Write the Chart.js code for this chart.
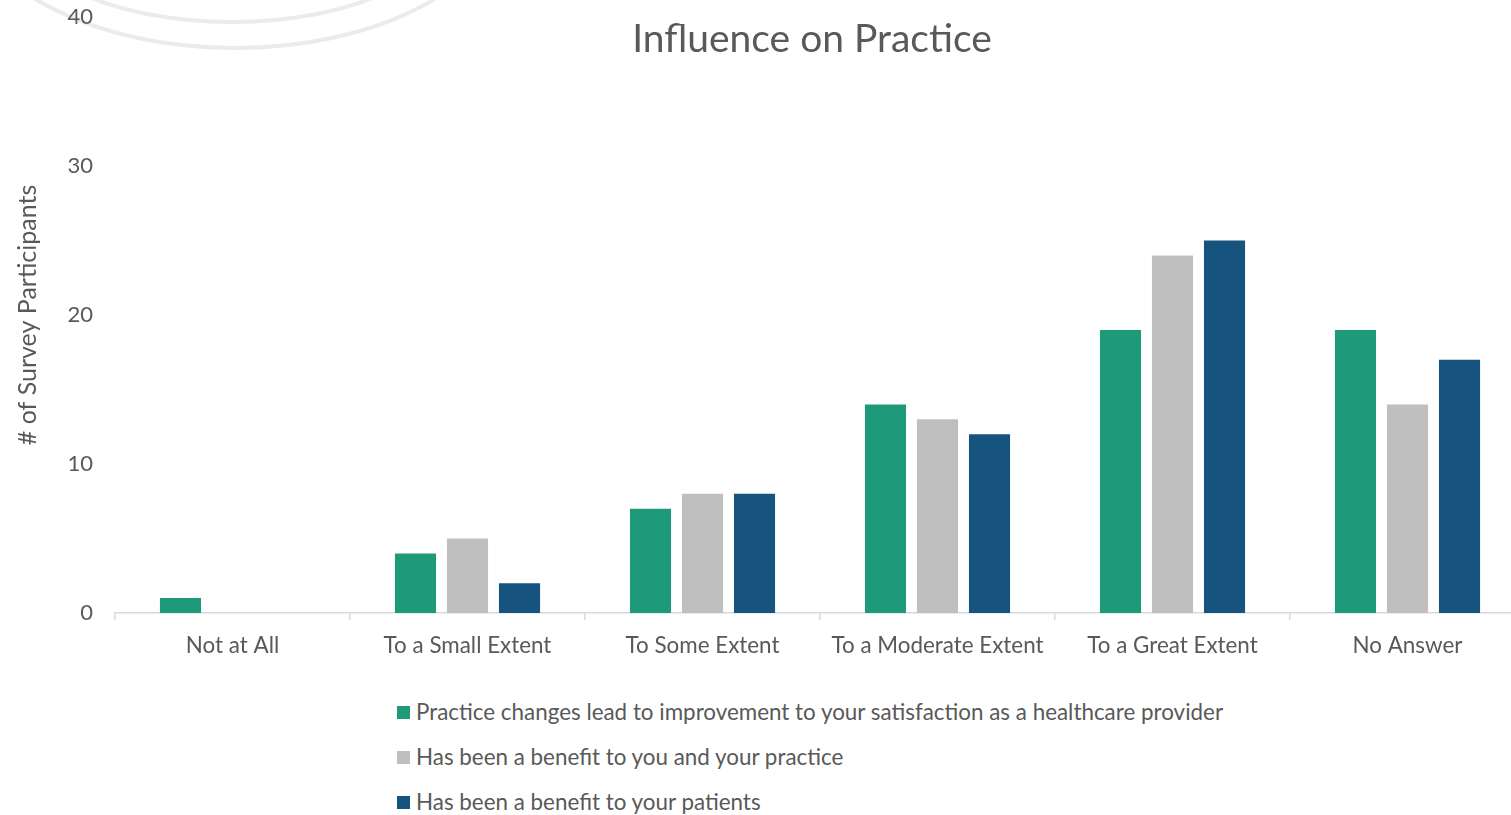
<!DOCTYPE html>
<html>
<head>
<meta charset="utf-8">
<script src="https://cdn.jsdelivr.net/npm/chart.js@4.4.1/dist/chart.umd.min.js"></script>
<style>
  html, body { margin: 0; padding: 0; background: #ffffff; }
  body { width: 1511px; height: 815px; overflow: hidden; position: relative; font-family: Lato, "Open Sans", sans-serif; }
  #chart { position: absolute; left: 0; top: 0; }
  #title { position: absolute; left: 312px; width: 1000px; top: 15px; text-align: center; font-size: 39px; line-height: 44px; color: #595959; }
  #legend { position: absolute; left: 397px; top: 698px; color: #595959; font-size: 22.4px; }
  #legend .item { height: 45px; line-height: 28px; display: flex; align-items: flex-start; }
  #legend .box { width: 13px; height: 13px; margin-top: 8px; margin-right: 6px; flex: none; }
</style>
</head>
<body>
<canvas id="chart" width="1540" height="680"></canvas>
<div id="title">Influence on Practice</div>
<div id="legend"></div>
<script>
const categories = ["Not at All", "To a Small Extent", "To Some Extent", "To a Moderate Extent", "To a Great Extent", "No Answer"];
const seriesNames = [
  "Practice changes lead to improvement to your satisfaction as a healthcare provider",
  "Has been a benefit to you and your practice",
  "Has been a benefit to your patients"
];
const satisfactionValues = [1, 4, 7, 14, 19, 19];
const practiceBenefitValues = [0, 5, 8, 13, 24, 14];
const patientBenefitValues = [0, 2, 8, 12, 25, 17];
const seriesColors = ["#1E9A7A", "#BFBFBF", "#17537F"];
const yTicks = [0, 10, 20, 30, 40];
const yAxisTitle = "# of Survey Participants";

const textColor = "#595959";
const fontFamily = "Lato, 'Open Sans', sans-serif";

const arcsPlugin = {
  id: 'bgArcs',
  beforeDraw(chart) {
    const ctx = chart.ctx;
    ctx.save();
    ctx.strokeStyle = "#EBEBEB";
    ctx.lineWidth = 4;
    ctx.beginPath();
    ctx.ellipse(235, -102, 270, 150, 0, 0, Math.PI);
    ctx.stroke();
    ctx.beginPath();
    ctx.ellipse(232, -78, 216, 100, 0, 0, Math.PI);
    ctx.stroke();
    ctx.restore();
  }
};

const datasets = [satisfactionValues, practiceBenefitValues, patientBenefitValues].map((vals, i) => ({
  label: seriesNames[i],
  data: vals,
  backgroundColor: seriesColors[i],
  borderWidth: 0,
  categoryPercentage: 0.664,
  barPercentage: 0.79
}));

const chart = new Chart(document.getElementById('chart'), {
  type: 'bar',
  data: { labels: categories, datasets },
  plugins: [arcsPlugin],
  options: {
    responsive: false,
    animation: false,
    layout: { padding: { top: 0, right: 15, left: 0, bottom: 0 } },
    plugins: { legend: { display: false }, title: { display: false }, tooltip: { enabled: false } },
    scales: {
      x: {
        offset: true,
        grid: { display: true, drawOnChartArea: false, drawTicks: true, tickLength: 7, color: "#D9D9D9", lineWidth: 1.5, offset: true },
        border: { display: true, color: "#D9D9D9", width: 1.5 },
        ticks: { color: textColor, font: { family: fontFamily, size: 22.4 }, padding: 12, maxRotation: 0 },
        afterFit(scale) { scale.height = 67; }
      },
      y: {
        min: 0, max: 40,
        afterBuildTicks(scale) { scale.ticks = yTicks.map(v => ({ value: v })); },
        grid: { display: false },
        border: { display: false },
        ticks: { color: textColor, font: { family: fontFamily, size: 22 }, padding: 14 },
        title: { display: true, text: yAxisTitle, color: textColor, font: { family: fontFamily, size: 25 }, padding: { top: 13 } },
        afterFit(scale) { scale.width = 115; scale.paddingTop = 17; }
      }
    }
  }
});

const legendEl = document.getElementById('legend');
chart.data.datasets.forEach(ds => {
  const item = document.createElement('div');
  item.className = 'item';
  const box = document.createElement('span');
  box.className = 'box';
  box.style.background = ds.backgroundColor;
  const txt = document.createElement('span');
  txt.textContent = ds.label;
  item.appendChild(box);
  item.appendChild(txt);
  legendEl.appendChild(item);
});
</script>
</body>
</html>
